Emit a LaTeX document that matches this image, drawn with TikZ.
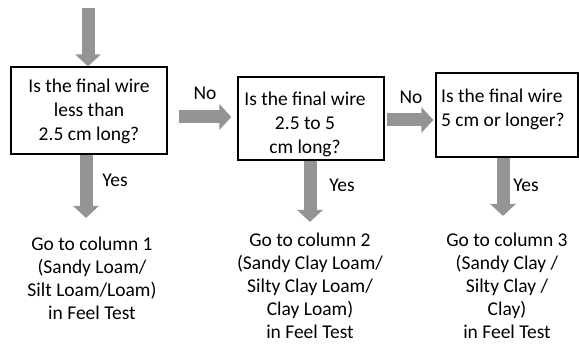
\documentclass[tikz,border=0pt]{standalone}
\usepackage{fontspec}
\setmainfont{Carlito}
\usetikzlibrary{arrows.meta,positioning}
\definecolor{flGray}{RGB}{148,148,148}
\begin{document}
\begin{tikzpicture}[x=1pt, y=-1pt, font=\fontsize{19.5}{24}\selectfont,
  qbox/.style={draw, line width=1.2pt, inner sep=0pt},
  qtext/.style={align=center, inner sep=0pt},
  result/.style={align=center, inner sep=0pt, font=\fontsize{19.5}{23}\selectfont},
  answer/.style={inner sep=0pt},
  flow/.style={flGray, line width=13pt, -{Triangle[length=12pt, width=25pt]}}]
\useasboundingbox (0,0) rectangle (579,345);
% question boxes
\node[qbox, minimum width=156pt, minimum height=87pt] (q1) at (89,110.5) {};
\node[qbox, minimum width=146pt, minimum height=83pt] (q2) at (311,118.5) {};
\node[qbox, minimum width=142pt, minimum height=84pt] (q3) at (507,115) {};
\node[qtext] (t1) at (89,111) {Is the final wire\\less than\\2.5 cm long?};
\node[qtext] (t2) at (305,124) {Is the final wire\\2.5 to 5\\cm long?};
\node[qtext, align=left, anchor=west] (t3) at (441,109.5) {Is the final wire\\5 cm or longer?};
% results
\node[result] (r1) at (92,278.5) {Go to column 1\\(Sandy Loam/\\Silt Loam/Loam)\\in Feel Test};
\node[result] (r2) at (310,286) {Go to column 2\\(Sandy Clay Loam/\\Silty Clay Loam/\\Clay Loam)\\in Feel Test};
\node[result] (r3) at (507,286) {Go to column 3\\(Sandy Clay /\\Silty Clay /\\Clay)\\in Feel Test};
% arrows
\coordinate (start) at (88,8);
\draw[flow] (start) -- (start |- q1.north);
\draw[flow] ([shift={(11,6.5)}]q1.east) -- ([shift={(-6,-1.5)}]q2.west);
\draw[flow] ([shift={(2,1.5)}]q2.east) -- ([shift={(-2,5)}]q3.west);
\draw[flow, shorten >=19pt] ([xshift=-3pt]q1.south) -- ([xshift=-3pt]q1.south |- r1.north);
\draw[flow, shorten >=11pt] ([xshift=-1pt]q2.south) -- ([xshift=-1pt]q2.south |- r2.north);
\draw[flow, shorten >=17pt] ([xshift=-4pt]q3.south) -- ([xshift=-4pt]q3.south |- r3.north);
% labels
\node[answer] (no1) at (205,93) {No};
\node[answer] (no2) at (411,97) {No};
\node[answer] (yes1) at (115,180) {Yes};
\node[answer] (yes2) at (342,185) {Yes};
\node[answer] (yes3) at (526,185) {Yes};
\end{tikzpicture}
\end{document}
